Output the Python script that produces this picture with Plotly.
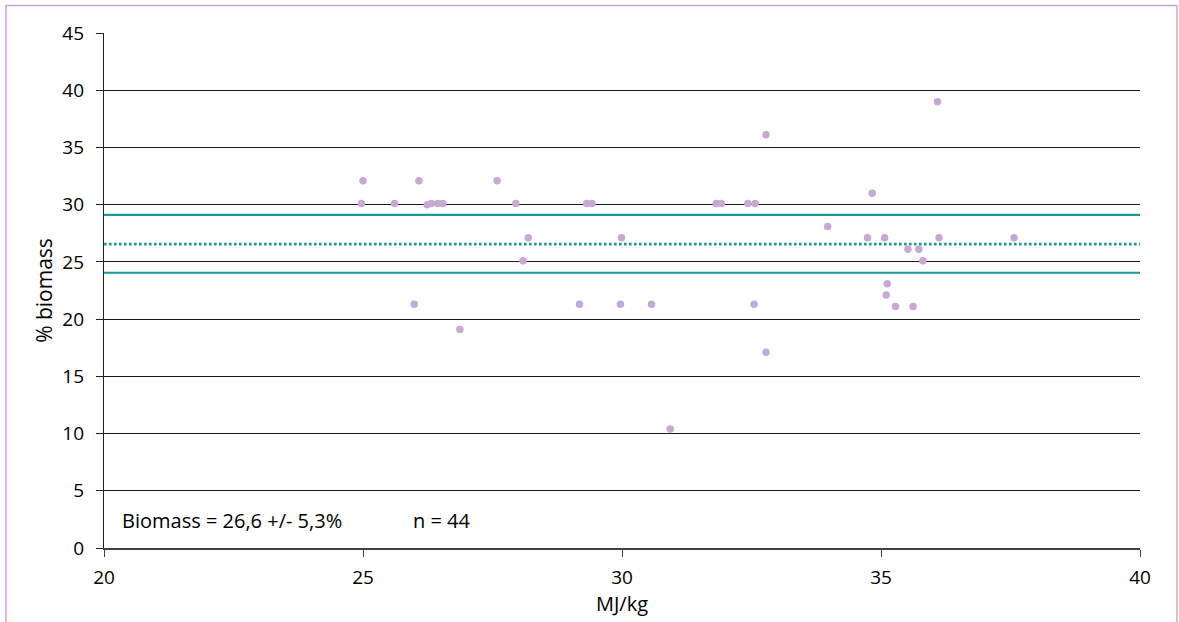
import plotly.graph_objects as go

# Data
mj_kg = [25.00, 24.97, 25.61, 26.08, 26.24, 26.32, 26.44, 26.54, 27.59, 27.95, 28.19,
         28.09, 25.99, 26.87,
         32.78, 29.32, 29.42, 31.82, 31.92, 32.43, 32.57, 29.99,
         29.18, 29.97, 30.57, 32.55, 32.78, 30.93,
         36.09, 34.83, 33.97, 34.74, 35.07, 36.12, 37.57,
         35.52, 35.73, 35.81, 35.12, 35.10, 35.28, 35.62]
biomass = [32.1, 30.1, 30.1, 32.1, 30.0, 30.1, 30.1, 30.1, 32.1, 30.1, 27.1,
           25.1, 21.3, 19.1,
           36.1, 30.1, 30.1, 30.1, 30.1, 30.1, 30.1, 27.1,
           21.3, 21.3, 21.3, 21.3, 17.1, 10.4,
           39.0, 31.0, 28.1, 27.1, 27.1, 27.1, 27.1,
           26.1, 26.1, 25.1, 23.1, 22.1, 21.1, 21.1]

mean_value = 26.55
band_low = 24.05
band_high = 29.1
x_span = [20, 40]

x_ticks = [20, 25, 30, 35, 40]
y_ticks = [0, 5, 10, 15, 20, 25, 30, 35, 40, 45]

teal = "#1a9b95"
purple = "#c8a8d4"
font_family = "Open Sans, Lato, sans-serif"

fig = go.Figure()

for yv in (band_high, band_low):
    fig.add_trace(go.Scatter(x=x_span, y=[yv, yv], mode="lines",
                             line=dict(color=teal, width=2.2),
                             hoverinfo="skip", showlegend=False))
fig.add_trace(go.Scatter(x=x_span, y=[mean_value, mean_value], mode="lines",
                         line=dict(color=teal, width=2.6, dash="2.6px,2.4px"),
                         hoverinfo="skip", showlegend=False))

fig.add_trace(go.Scatter(x=mj_kg, y=biomass, mode="markers",
                         marker=dict(color=purple, size=7.5, line=dict(width=0)),
                         showlegend=False))

fig.update_layout(
    width=1179, height=622,
    margin=dict(l=104, r=39, t=33, b=74),
    paper_bgcolor="white", plot_bgcolor="white",
    font=dict(family=font_family, size=19, color="black"),
    showlegend=False,
    xaxis=dict(range=[20, 40], tickvals=x_ticks, ticks="outside", ticklen=7,
               tickcolor="#404040", showgrid=False, zeroline=False,
               showline=True, linecolor="#404040", linewidth=1.5,
               ticklabelstandoff=4,
               title=dict(text="MJ/kg", standoff=2, font=dict(size=20)),
               tickfont=dict(size=19)),
    yaxis=dict(range=[0, 45], tickvals=y_ticks, ticks="outside", ticklen=7,
               tickcolor="#202020", showgrid=True, gridcolor="#1a1a1a", gridwidth=1.2,
               zeroline=False, showline=True, linecolor="#202020", linewidth=1.2,
               ticklabelstandoff=8,
               title=dict(text="% biomass", standoff=4, font=dict(size=21)),
               tickfont=dict(size=19)),
    shapes=[dict(type="rect", xref="paper", yref="paper",
                 x0=-0.0946, x1=1.0357, y0=-0.16, y1=1.0535,
                 line=dict(color="#c9a8d8", width=1.5), layer="below")],
    annotations=[
        dict(x=20.31, y=2.4, xref="x", yref="y", text="Biomass = 26,6 +/- 5,3%",
             showarrow=False, xanchor="left", yanchor="middle", font=dict(size=20)),
        dict(x=25.93, y=2.4, xref="x", yref="y", text="n = 44",
             showarrow=False, xanchor="left", yanchor="middle", font=dict(size=20)),
    ],
)

fig.write_html("out.html", config={"displayModeBar": False},
               post_script="document.body.style.margin='0';")
